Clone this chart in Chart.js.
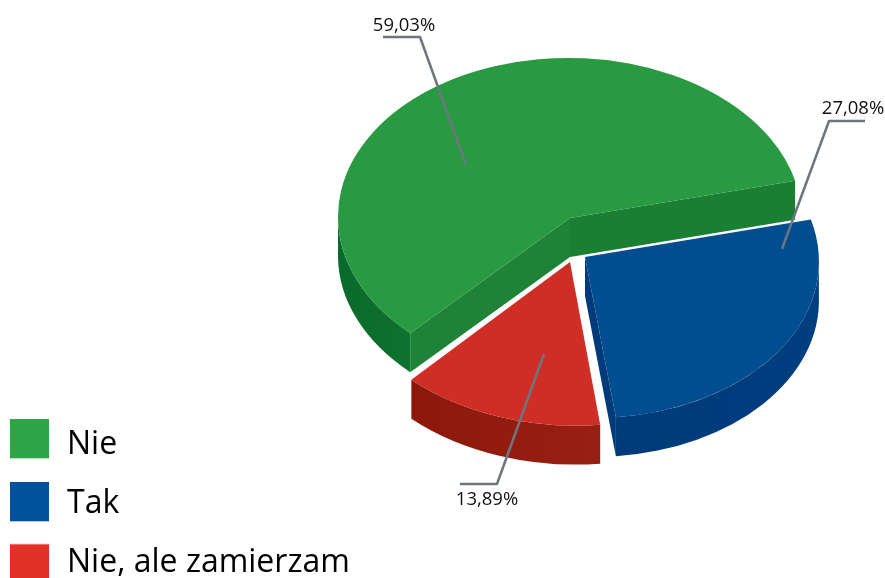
<!DOCTYPE html>
<html><head><meta charset="utf-8">
<style>html,body{margin:0;padding:0;background:#fff}canvas{display:block}</style>
<script src="https://cdn.jsdelivr.net/npm/chart.js@4"></script>
</head><body><canvas id="c" width="885" height="578"></canvas>
<script>
const categories = ['Nie', 'Tak', 'Nie, ale zamierzam'];
const shares = [59.03, 27.08, 13.89];
const topColors = ['#2A9A42', '#004D90', '#CE2E25'];
const legendColors = ['#2CA646', '#00529C', '#E23227'];
const rimColors = [['#0A6A2B', '#0E7230'], ['#003A7A', '#003E80'], ['#8C180B', '#9A1F13']];
const cutColors = [['#1E8337', '#1A7E33'], ['#003A7A', '#003A7A'], ['#8C180B', '#8C180B']];

// Projection of the flat pie into the tilted view (per slice, the source has slight perspective)
const view = { x: 570, y: 218, depth: 39 };
const explode = [[0, 0], [15, 39], [0, 44]];
const tilts = [0.69, 0.695, 0.705];
const widen = [1, 1.008, 1.01];
const shears = [0.012, 0.04, 0.035];
// Swatches sit slightly off their text rows in the source
const swatchSize = 39;
const swatchNudge = [-6.3, -2.3, 0.7];
// Leader lines, in pixels from the pie centre: anchor, elbow, label end, text centre
const leaders = [
  { a: [-104, -53], e: [-150, -181], s: [-187, -181], t: [-166, -192] },
  { a: [212, 31], e: [259, -97], s: [295, -97], t: [283, -109] },
  { a: [-26, 136], e: [-73, 266], s: [-110, 266], t: [-83, 282] }
];

function project(ctx, el, i) {
  ctx.translate(view.x + explode[i][0], view.y + explode[i][1]);
  ctx.transform(widen[i], 0, shears[i], 1, 0, 0);
  ctx.scale(1, tilts[i]);
  ctx.translate(-el.x, -el.y);
}

function swatch(color, nudge) {
  const c = document.createElement('canvas');
  c.width = swatchSize + 2;
  c.height = swatchSize + 2 * Math.abs(nudge);
  const g = c.getContext('2d');
  g.fillStyle = color;
  g.fillRect(0, nudge > 0 ? 2 * nudge : 0, swatchSize, swatchSize);
  return c;
}

const pie3d = {
  id: 'pie3d',
  beforeDatasetsDraw(chart) {
    const ctx = chart.ctx;
    const arcs = chart.getDatasetMeta(0).data;
    const TAU = Math.PI * 2;
    arcs.forEach((el, i) => {
      const { x, y, startAngle: a0, endAngle: a1, outerRadius: r } = el;
      const d = view.depth / tilts[i];
      const back = shears[i] * view.depth / widen[i]; // keeps wall edges vertical
      ctx.save();
      project(ctx, el, i);
      // cut faces
      [[a0, Math.sin(a0 - Math.PI / 2)], [a1, Math.sin(a1 + Math.PI / 2)]].forEach(([a, facing], n) => {
        if (facing <= 0) return;
        const px = x + Math.cos(a) * r, py = y + Math.sin(a) * r;
        ctx.fillStyle = cutColors[i][n];
        ctx.beginPath();
        ctx.moveTo(x, y); ctx.lineTo(px, py); ctx.lineTo(px - back, py + d); ctx.lineTo(x - back, y + d);
        ctx.closePath(); ctx.fill();
      });
      // rim: the front half of the circle only
      for (let k = -1; k <= 1; k++) {
        const from = Math.max(a0, k * TAU), to = Math.min(a1, k * TAU + Math.PI);
        if (to <= from) continue;
        const x0 = x + Math.cos(from) * r, x1 = x + Math.cos(to) * r;
        const g = ctx.createLinearGradient(Math.min(x0, x1), 0, Math.max(x0, x1), 0);
        g.addColorStop(0, rimColors[i][0]); g.addColorStop(1, rimColors[i][1]);
        ctx.fillStyle = g;
        ctx.beginPath();
        ctx.arc(x, y, r, from, to);
        ctx.arc(x - back, y + d, r, to, from, true);
        ctx.closePath(); ctx.fill();
      }
      // top face, through the library's own arc element
      el.draw(ctx);
      ctx.restore();
    });
    // leader lines and value labels
    arcs.forEach((el, i) => {
      const L = leaders[i];
      ctx.save();
      ctx.strokeStyle = '#6C767F'; ctx.lineWidth = 2.5; ctx.lineJoin = 'round';
      ctx.beginPath();
      ctx.moveTo(view.x + L.a[0], view.y + L.a[1]);
      ctx.lineTo(view.x + L.e[0], view.y + L.e[1]);
      ctx.lineTo(view.x + L.s[0], view.y + L.s[1]);
      ctx.stroke();
      ctx.fillStyle = '#111';
      ctx.font = '18.5px "Open Sans"';
      ctx.textAlign = 'center'; ctx.textBaseline = 'middle';
      ctx.fillText(shares[i].toFixed(2).replace('.', ',') + '%', view.x + L.t[0], view.y + L.t[1]);
      ctx.restore();
    });
    return false;
  },
  afterLayout(chart) {
    chart.legend.left = -17;
    chart.legend.bottom = 605.8;
  }
};

new Chart(document.getElementById('c'), {
  type: 'pie',
  data: {
    labels: categories,
    datasets: [{ data: shares, backgroundColor: topColors, borderWidth: 0 }]
  },
  plugins: [pie3d],
  options: {
    responsive: false,
    animation: false,
    rotation: 224,
    radius: 232,
    layout: { padding: 0 },
    plugins: {
      tooltip: { enabled: false },
      legend: {
        position: 'left',
        align: 'end',
        labels: {
          usePointStyle: true,
          pointStyleWidth: swatchSize + 2,
          boxHeight: 32,
          padding: 27,
          color: '#000',
          font: { family: 'Open Sans', size: 32 },
          generateLabels(chart) {
            return Chart.overrides.pie.plugins.legend.labels.generateLabels(chart).map((it, i) => ({
              ...it, pointStyle: swatch(legendColors[i], swatchNudge[i]), lineWidth: 0
            }));
          }
        }
      }
    }
  }
});
</script></body></html>
